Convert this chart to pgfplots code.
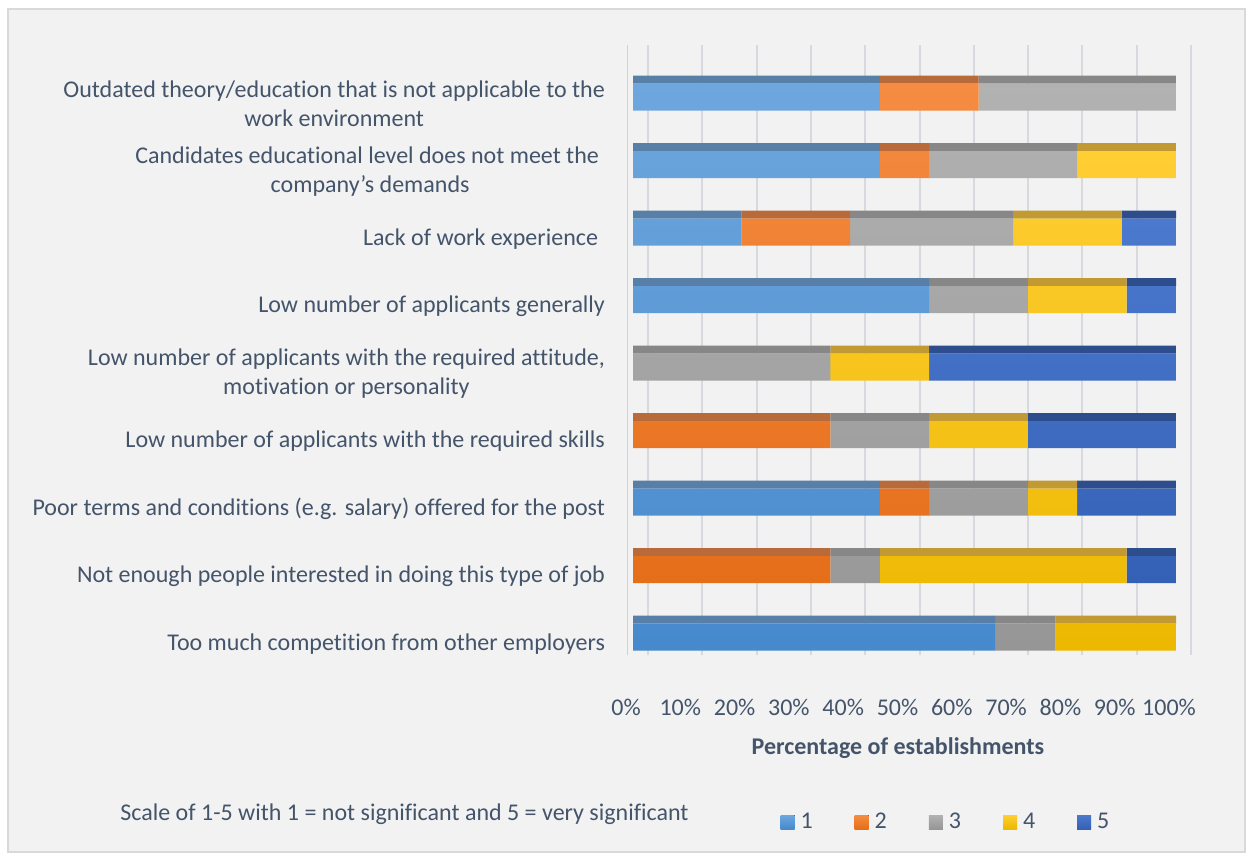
\documentclass[border=0pt]{standalone}
\usepackage{fontspec}
\setmainfont{Carlito}[Ligatures=NoCommon]
\usepackage{pgfplots}
\usepackage{pgfplotstable}
\pgfplotsset{compat=1.18}

\definecolor{txt}{HTML}{44546A}
\definecolor{bgpanel}{HTML}{F2F2F2}
\definecolor{frame}{HTML}{D9D9D9}
\definecolor{gridc}{HTML}{D6D9DE}
% front faces (top / bottom of gradient)
\definecolor{aT}{HTML}{6EA7DE}\definecolor{aB}{HTML}{4689CC}
\definecolor{bT}{HTML}{F58C42}\definecolor{bB}{HTML}{E56E19}
\definecolor{cT}{HTML}{B2B2B2}\definecolor{cB}{HTML}{969696}
\definecolor{dT}{HTML}{FFCE33}\definecolor{dB}{HTML}{ECB800}
\definecolor{eT}{HTML}{4B79CE}\definecolor{eB}{HTML}{3461B6}
% top faces
\definecolor{aU}{HTML}{587FA8}
\definecolor{bU}{HTML}{B86A3B}
\definecolor{cU}{HTML}{878787}
\definecolor{dU}{HTML}{C29A34}
\definecolor{eU}{HTML}{2E4D8C}

% share of establishments per rating (1..5), bottom row first
\pgfplotstableread{
y  s1    s2    s3    s4    s5
0  66.67 0     11.11 22.22 0
1  0     36.36 9.09  45.45 9.09
2  45.45 9.09  18.18 9.09  18.18
3  0     36.36 18.18 18.18 27.27
4  0     0     36.36 18.18 45.45
5  54.55 0     18.18 18.18 9.09
6  20    20    30    20    10
7  45.45 9.09  27.27 18.18 0
8  45.45 18.18 36.36 0     0
}\ratings

\newcommand{\lbl}{\fontsize{12}{14.5}\selectfont}

\begin{document}
\begin{tikzpicture}
\fill[white] (0,0) rectangle (626pt,429.5pt);
\filldraw[fill=bgpanel, draw=frame, line width=0.6pt] (4pt,3.5pt) rectangle (622.5pt,425pt);

% back wall grid
\begin{axis}[
  at={(313.5pt,102pt)}, anchor=south west, scale only axis,
  width=285pt, height=305pt,
  xmin=-3.87, xmax=101.1, ymin=0, ymax=1,
  xtick={0,10,...,100}, xticklabels={}, ytick=\empty,
  xmajorgrids, grid style={draw=gridc, line width=1pt},
  extra x ticks={-3.8}, extra x tick labels={},
  extra x tick style={grid style={draw=gridc!120, line width=0.8pt}},
  axis line style={draw=none}, tick style={draw=none},
]
\end{axis}

% top faces of the bars
\begin{axis}[
  at={(316.5pt,90.75pt)}, anchor=south west, scale only axis,
  width=271.5pt, height=310.5pt,
  xbar stacked, bar width=4pt, bar shift=8.75pt,
  xmin=0, xmax=100, ymin=-0.6, ymax=8.6,
  hide axis,
]
\addplot[draw=none, fill=aU] table[x=s1, y=y] {\ratings};
\addplot[draw=none, fill=bU] table[x=s2, y=y] {\ratings};
\addplot[draw=none, fill=cU] table[x=s3, y=y] {\ratings};
\addplot[draw=none, fill=dU] table[x=s4, y=y] {\ratings};
\addplot[draw=none, fill=eU] table[x=s5, y=y] {\ratings};
\end{axis}

% front faces, labels, legend
\begin{axis}[
  at={(316.5pt,90.75pt)}, anchor=south west, scale only axis,
  width=271.5pt, height=310.5pt,
  xbar stacked, bar width=13.5pt,
  xmin=0, xmax=100, ymin=-0.6, ymax=8.6,
  axis line style={draw=none}, tick style={draw=none},
  xtick={0,10,...,100},
  xticklabels={0\%,10\%,20\%,30\%,40\%,50\%,60\%,70\%,80\%,90\%,100\%},
  xticklabel style={font=\lbl, text=txt, anchor=center, yshift=-14.75pt, xshift=-3.5pt},
  ytick={0,...,8},
  yticklabels={
    {Too much competition from other employers},
    {Not enough people interested in doing this type of job},
    {Poor terms and conditions (e.g. salary) offered for the post},
    {Low number of applicants with the required skills},
    {Low number of applicants with the required attitude,\\motivation or personality},
    {Low number of applicants generally},
    {Lack of work experience\hspace*{3.5pt}},
    {Candidates educational level does not meet the\hspace*{3pt}\\company’s demands},
    {Outdated theory/education that is not applicable to the\\work environment}},
  yticklabel style={font=\lbl, text=txt, align=center, anchor=east, xshift=-10.5pt, yshift=-3.5pt},
  xlabel={\textbf{Percentage of establishments}},
  xlabel style={font=\lbl, text=txt, at={(axis description cs:0.488,-0.1135)}, anchor=center},
  legend columns=5,
  legend style={draw=none, fill=none, font=\lbl, text=txt,
    at={(axis description cs:0.271,-0.2327)}, anchor=west, inner sep=0pt,
    /tikz/every even column/.append style={column sep=19pt},
    /tikz/every odd column/.append style={column sep=1pt}},
  legend image code/.code={\fill[#1] (0pt,-3.5pt) rectangle (7pt,3.5pt);},
]
\addplot[draw=none, top color=aT, bottom color=aB] table[x=s1, y=y] {\ratings};
\addplot[draw=none, top color=bT, bottom color=bB] table[x=s2, y=y] {\ratings};
\addplot[draw=none, top color=cT, bottom color=cB] table[x=s3, y=y] {\ratings};
\addplot[draw=none, top color=dT, bottom color=dB] table[x=s4, y=y] {\ratings};
\addplot[draw=none, top color=eT, bottom color=eB] table[x=s5, y=y] {\ratings};
\legend{1,2,3,4,5}
\end{axis}

\node[font=\lbl, text=txt, anchor=west, inner sep=0pt] at (60pt,22.5pt)
  {Scale of 1-5 with 1 = not significant and 5 = very significant};
\end{tikzpicture}
\end{document}
